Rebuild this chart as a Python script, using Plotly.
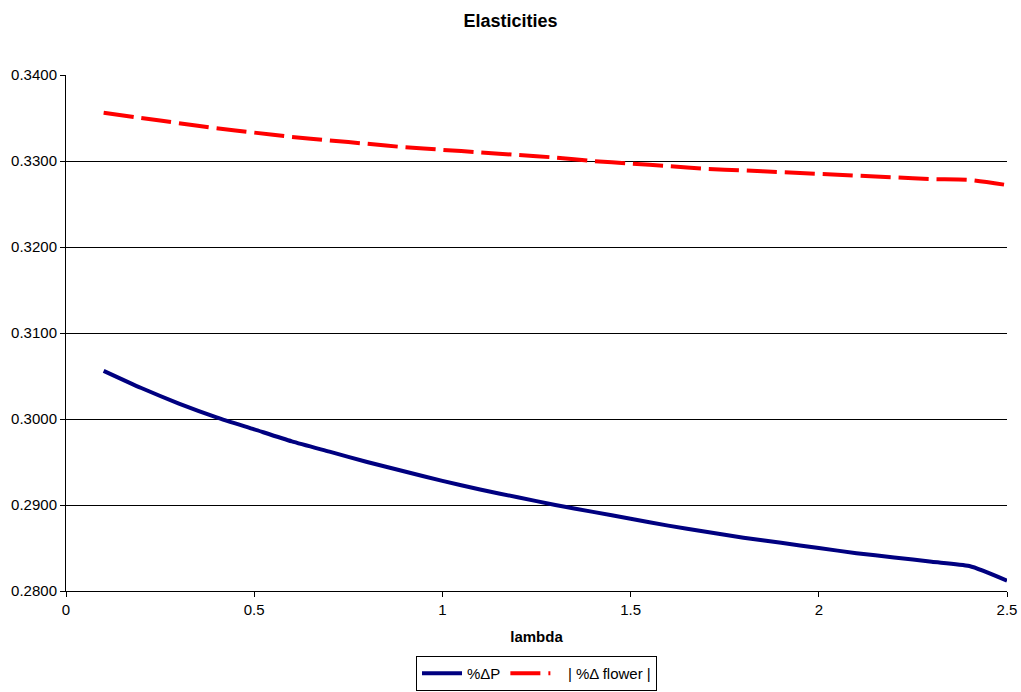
import plotly.graph_objects as go

# lambda grid and the two elasticity series
lam = [0.1, 0.2, 0.3, 0.4, 0.5, 0.6, 0.7, 0.8, 0.9, 1.0, 1.1, 1.2, 1.3,
       1.4, 1.5, 1.6, 1.7, 1.8, 1.9, 2.0, 2.1, 2.2, 2.3, 2.4, 2.5]
pct_dp = [0.3056, 0.3036, 0.3018, 0.3002, 0.2988, 0.2974, 0.2962, 0.2950,
          0.2939, 0.2928, 0.2918, 0.2909, 0.2900, 0.2892, 0.2884, 0.2876,
          0.2869, 0.2862, 0.2856, 0.2850, 0.2844, 0.2839, 0.2834, 0.2829,
          0.2812]
pct_flower = [0.3356, 0.3350, 0.3344, 0.3338, 0.3333, 0.3328, 0.3324, 0.3320,
              0.3316, 0.3313, 0.3310, 0.3307, 0.3304, 0.3300, 0.3297, 0.3294,
              0.3291, 0.3289, 0.3287, 0.3285, 0.3283, 0.3281, 0.3279, 0.3278,
              0.3272]

x_ticks = [0, 0.5, 1, 1.5, 2, 2.5]
x_tick_text = ["0", "0.5", "1", "1.5", "2", "2.5"]
y_ticks = [0.28, 0.29, 0.30, 0.31, 0.32, 0.33, 0.34]

FONT = "Liberation Sans, Arial, sans-serif"

fig = go.Figure()
fig.add_trace(go.Scatter(
    x=lam, y=pct_dp, mode="lines", name="%ΔP",
    line=dict(color="#000080", width=4, shape="spline", smoothing=0.6),
))
fig.add_trace(go.Scatter(
    x=lam, y=pct_flower, mode="lines", name="   | %Δ flower |",
    line=dict(color="#FF0000", width=4, dash="30px,8px", shape="spline", smoothing=0.6),
))

fig.update_layout(
    width=1021, height=692,
    margin=dict(l=66, r=14, t=75, b=101, autoexpand=False),
    paper_bgcolor="white", plot_bgcolor="white",
    font=dict(family=FONT, size=15, color="black"),
    title=dict(text="<b>Elasticities</b>", x=0.5, xref="container",
               y=1 - 21 / 692, yref="container", yanchor="middle",
               font=dict(size=18, family=FONT)),
    showlegend=True,
    legend=dict(orientation="h", x=0.5, xanchor="center", y=-0.126, yanchor="top",
                bordercolor="black", borderwidth=1, font=dict(size=15),
                itemwidth=40, tracegroupgap=0),
    xaxis=dict(range=[0, 2.5], tickvals=x_ticks, ticktext=x_tick_text,
               showgrid=False, zeroline=False,
               showline=True, linecolor="black", linewidth=1,
               ticks="outside", ticklen=5, tickcolor="black",
               title=dict(text="<b>lambda</b>", font=dict(size=15), standoff=14)),
    yaxis=dict(range=[0.28, 0.34], tickvals=y_ticks, tickformat=".4f",
               showgrid=True, gridcolor="black", gridwidth=1, zeroline=False,
               showline=True, linecolor="black", linewidth=1,
               ticks="outside", ticklen=5, tickcolor="black"),
)

fig.write_html("out.html")
